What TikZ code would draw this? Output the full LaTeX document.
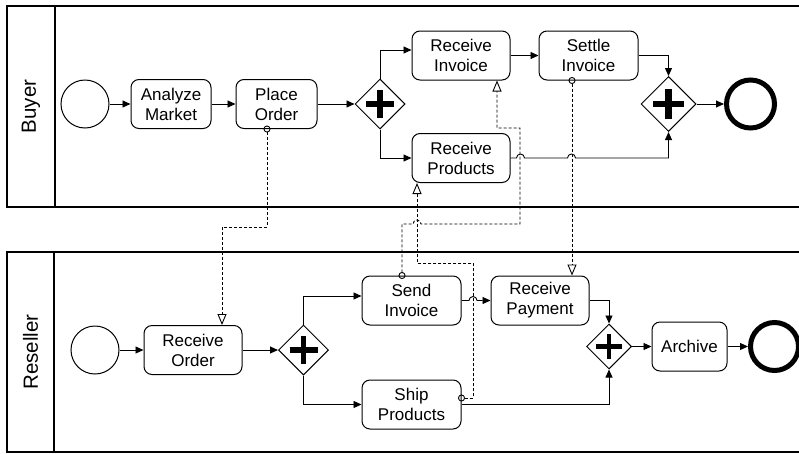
\documentclass[tikz,border=0pt]{standalone}
\usepackage{fontspec}
\setmainfont{Liberation Sans}
\usetikzlibrary{arrows.meta, positioning, shapes.geometric}

\tikzset{
  task/.style={draw, rounded corners=8pt, line width=1pt, minimum width=#1, minimum height=49pt, align=center, inner sep=0pt, font=\fontsize{17}{20}\selectfont},
  task/.default=98pt,
  event/.style={draw, circle, line width=1pt, minimum size=48pt, inner sep=0pt},
  endevent/.style={draw, circle, line width=5pt, minimum size=48pt, inner sep=0pt},
  gateway/.style={draw, diamond, line width=1pt, minimum size=#1, inner sep=0pt, fill=white,
    path picture={\draw[line width=0.11*#1] ([xshift=-0.28*#1]path picture bounding box.center) -- ([xshift=0.28*#1]path picture bounding box.center)
      ([yshift=-0.28*#1]path picture bounding box.center) -- ([yshift=0.28*#1]path picture bounding box.center);}},
  gateway/.default=50,
  seq/.style={-{Triangle[length=8pt,width=7pt]}, line width=0.9pt},
  msg/.style={{Circle[open,length=7pt]}-{Triangle[open,length=11pt,width=9pt]}, dash pattern=on 3pt off 2pt, line width=0.9pt, shorten <=-3.5pt},
  pool/.style={line width=1.2pt},
  poollabel/.style={rotate=90, font=\fontsize{20.5}{24}\selectfont}
}

\begin{document}
\begin{tikzpicture}[x=1pt, y=-1pt]
    \useasboundingbox (0,0) rectangle (799,453);
    \clip (0,0) rectangle (799,453);

    \draw[pool] (815,6) -| (7,207) -- (815,207) (55,6) -- (55,207);
    \draw[pool] (815,252) -| (7,452) -- (815,452) (54,252) -- (54,452);
    \node[poollabel] (buyer) at (31,106.5) {Buyer};
    \node[poollabel] (reseller) at (30.5,352) {Reseller};

    \node[event] (bs) at (85,104) {};
    \node[event] (rs) at (95,350) {};
    \node[endevent] (be) at (750.5,104) {};
    \node[endevent] (re) at (774.5,346.5) {};

    \foreach \n/\x/\y/\w/\t in {am/171/104/80/{Analyze\\Market}, po/276.5/104/81/{Place\\Order},
        ri/461/55.5/98/{Receive\\Invoice}, si/588.5/55.5/99/{Settle\\Invoice}, rp/461/158/98/{Receive\\Products},
        ro/193/350/98/{Receive\\Order}, sinv/411.5/300.5/99/{Send\\Invoice}, sp/411.5/404.5/99/{Ship\\Products},
        rpay/540/300.5/98/{Receive\\Payment}, ar/689.5/346.5/75/{Archive}}
    {
        \node[task=\w] (\n) at (\x,\y) {\t};
    }

    \node[gateway] (gw1) at (380,104) {};
    \node[gateway=55] (gw2) at (668.5,104) {};
    \node[gateway] (gw3) at (303.5,350) {};
    \node[gateway=45] (gw4) at (609,346.5) {};

    \foreach \a/\b in {bs/am, am/po, po/gw1, ri/si, gw2/be, rs/ro, ro/gw3, gw4/ar, ar/re}
        \draw[seq] (\a) -- (\b);

    \draw[seq] (gw1.north) |- ([yshift=5.5pt]ri.west);
    \draw[seq] (gw1.south) |- (rp.west);
    \draw[seq] (si.east) -| (gw2.north);
    \draw[seq] (rp.east) -- (516.5,158) arc[start angle=180, end angle=0, radius=4pt] -- (567.5,158) arc[start angle=180, end angle=0, radius=4pt] -| (gw2.south);
    \draw[seq] (gw3.north) |- ([yshift=4.5pt]sinv.west);
    \draw[seq] (gw3.south) |- (sp.west);
    \draw[seq] (sinv.east) -- (469,300.5) arc[start angle=180, end angle=0, radius=4pt] -- (rpay.west);
    \draw[seq] (rpay.east) -| (gw4.north);
    \draw[seq] (sp.east) -| (gw4.south);

    \draw[msg] ([xshift=-9.5pt]po.south) -- ++(0,98) -| ([xshift=29pt]ro.north);
    \draw[msg] ([xshift=-9.5pt]sinv.north) -- (402,224) -- (413,224) arc[start angle=180, end angle=0, radius=4pt] -- (520,224) |- (497,128) -- ([xshift=36pt]ri.south);
    \draw[msg] ([yshift=6.5pt]sp.east) -- (473,398) -- (473,263) -| ([xshift=-44pt]rp.south);
    \draw[msg] ([xshift=-16.5pt]si.south) -- ([xshift=32pt]rpay.north);
\end{tikzpicture}
\end{document}
